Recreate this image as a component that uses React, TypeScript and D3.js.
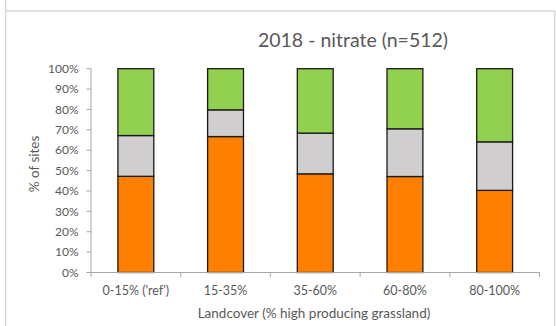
import React from "react";
import * as d3 from "d3";

const categories = ["0-15% ('ref')", "15-35%", "35-60%", "60-80%", "80-100%"];
const lowShare = [47.2, 66.7, 48.4, 47.1, 40.3];
const midShare = [20.0, 13.1, 20.0, 23.4, 23.8];
const highShare = [32.8, 20.2, 31.6, 29.5, 35.9];
const yTicks = [0, 10, 20, 30, 40, 50, 60, 70, 80, 90, 100];
const seriesColors = ["#FF8000", "#D0CECE", "#92D050"];

const W = 556;
const H = 326;
const FONT = "Lato, 'Open Sans', sans-serif";

export default function App() {
  const x = d3.scaleBand().domain(categories).range([91, 539.5]).paddingInner(0.6).paddingOuter(0.3);
  const xEdge = d3.scaleLinear().domain([0, categories.length]).range([91, 539.5]);
  const y = d3.scaleLinear().domain([0, 100]).range([272.5, 68.7]);

  const rows = categories.map((c, i) => ({ c, low: lowShare[i], mid: midShare[i], high: highShare[i] }));
  const stacked = d3.stack<any>().keys(["low", "mid", "high"])(rows);

  return (
    <svg width={W} height={H} style={{ position: "absolute", left: 0, top: 0 }}>
      <rect x={0} y={0} width={W} height={H} fill="#fff" />
      {/* frame */}
      <line x1={5.7} x2={5.7} y1={0} y2={H} stroke="#D9D9D9" strokeWidth={1.5} />
      <line x1={5.7} x2={554.7} y1={11} y2={11} stroke="#D9D9D9" strokeWidth={1.5} />
      <line x1={554.7} x2={554.7} y1={11} y2={H} stroke="#D9D9D9" strokeWidth={1.5} />

      <text x={353} y={47} textAnchor="middle" fontFamily={FONT} fontSize={19.5} fill="#595959">
        2018 - nitrate (n=512)
      </text>

      {/* y axis */}
      <line x1={91} x2={91} y1={y(100)} y2={y(0)} stroke="#A6A6A6" strokeWidth={1} />
      {yTicks.map((t) => (
        <g key={t}>
          <line x1={86.5} x2={91} y1={y(t)} y2={y(t)} stroke="#A6A6A6" />
          <text x={78.5} y={y(t)} dy="0.35em" textAnchor="end" fontFamily={FONT} fontSize={12} fill="#595959">
            {t}%
          </text>
        </g>
      ))}
      <text
        transform={`translate(34,164) rotate(-90)`}
        textAnchor="middle"
        dy="0.35em"
        fontFamily={FONT}
        fontSize={13.5}
        fill="#595959"
      >
        % of sites
      </text>

      {/* bars */}
      {stacked.map((layer, si) =>
        layer.map((d, i) => (
          <rect
            key={`${si}-${i}`}
            x={x(categories[i])}
            y={y(d[1])}
            width={x.bandwidth()}
            height={y(d[0]) - y(d[1])}
            fill={seriesColors[si]}
            stroke="#1a1a1a"
            strokeWidth={1.3}
          />
        ))
      )}

      {/* x axis */}
      <line x1={91} x2={539.5} y1={y(0)} y2={y(0)} stroke="#A6A6A6" strokeWidth={1} />
      {d3.range(categories.length + 1).map((k) => (
        <line key={k} x1={xEdge(k)} x2={xEdge(k)} y1={y(0)} y2={y(0) + 4.5} stroke="#A6A6A6" />
      ))}
      {categories.map((c) => (
        <text
          key={c}
          x={(x(c) as number) + x.bandwidth() / 2}
          y={291}
          dy="0.35em"
          textAnchor="middle"
          fontFamily={FONT}
          fontSize={12.5}
          fill="#595959"
        >
          {c}
        </text>
      ))}
      <text x={314} y={313} dy="0.35em" textAnchor="middle" fontFamily={FONT} fontSize={13.5} fill="#595959">
        Landcover (% high producing grassland)
      </text>
    </svg>
  );
}
